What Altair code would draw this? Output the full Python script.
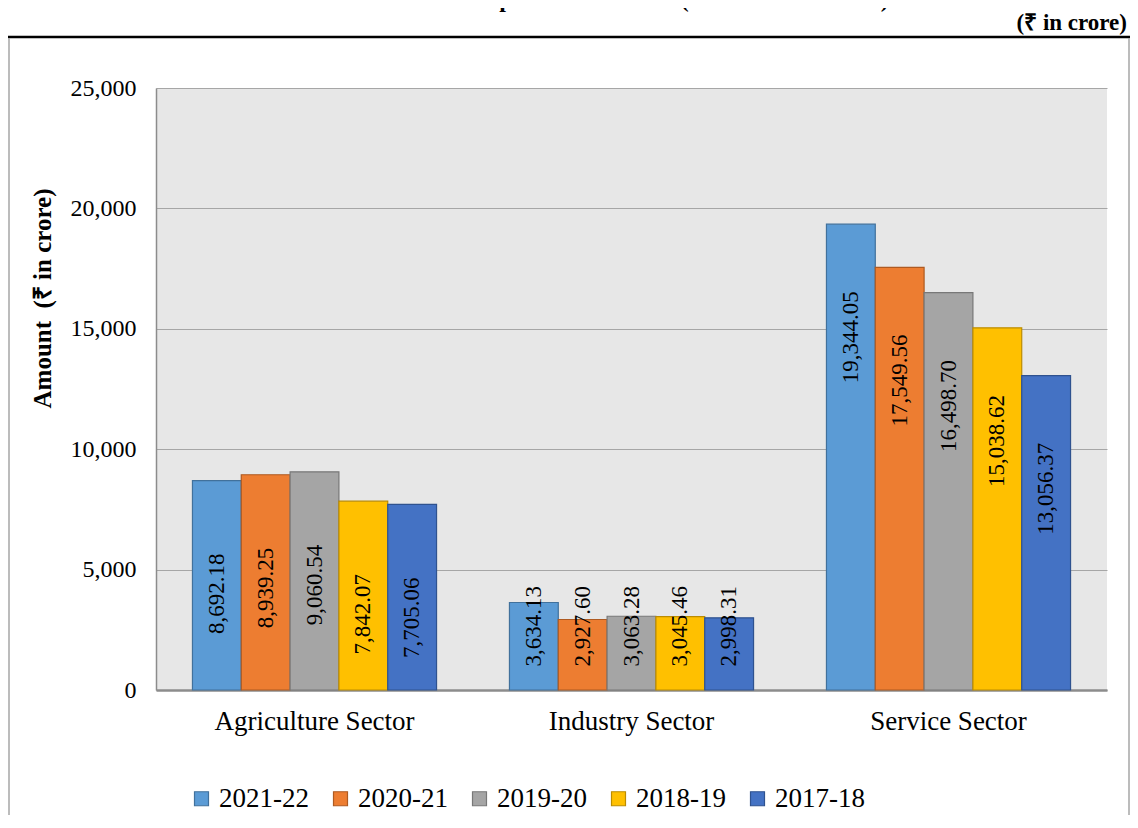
import altair as alt
import pandas as pd

sectors = ["Agriculture Sector", "Industry Sector", "Service Sector"]
years = ["2021-22", "2020-21", "2019-20", "2018-19", "2017-18"]
v_2021_22 = [8692.18, 3634.13, 19344.05]
v_2020_21 = [8939.25, 2927.60, 17549.56]
v_2019_20 = [9060.54, 3063.28, 16498.70]
v_2018_19 = [7842.07, 3045.46, 15038.62]
v_2017_18 = [7705.06, 2998.31, 13056.37]
y_ticks = [0, 5000, 10000, 15000, 20000, 25000]

fills = ["#5B9BD5", "#ED7D31", "#A5A5A5", "#FFC000", "#4472C4"]
strokes = ["#41719C", "#AE5A21", "#787878", "#BC8C00", "#2F528F"]

series = [v_2021_22, v_2020_21, v_2019_20, v_2018_19, v_2017_18]
rows = []
for yr, vals in zip(years, series):
    for s, v in zip(sectors, vals):
        rows.append({"sector": s, "year": yr, "value": v})
df = pd.DataFrame(rows)

FONT = "Liberation Serif"
W, H = 951, 602

legend_kw = dict(title=None, orient="none", direction="horizontal",
                 legendX=32, legendY=697, symbolType="square",
                 symbolSize=196, symbolStrokeWidth=1.2,
                 labelFont=FONT, labelFontSize=27, labelColor="black",
                 labelOffset=4, columnPadding=18, padding=0)

base = alt.Chart(df).encode(
    x=alt.X("sector:N", sort=sectors,
            scale=alt.Scale(paddingInner=0.23, paddingOuter=0.115),
            axis=alt.Axis(title=None, labelAngle=0, ticks=False, labelPadding=18,
                          labelFontSize=27, labelLimit=0, domainColor="#8c8c8c", domainWidth=2.5,
                          labelFont=FONT, labelColor="black", grid=False)),
    xOffset=alt.XOffset("year:N", sort=years, scale=alt.Scale(paddingInner=0, paddingOuter=0)),
)

bars = base.mark_bar(strokeWidth=1.2).encode(
    y=alt.Y("value:Q", scale=alt.Scale(domain=[0, 25000], nice=False),
            axis=alt.Axis(title="Amount\u00a0 (₹ in crore)", values=y_ticks, format=",d",
                          ticks=False, labelPadding=20, labelFontSize=24, labelFont=FONT,
                          labelColor="black", grid=True, gridColor="#a6a6a6",
                          domainColor="#8c8c8c", domainWidth=1.5,
                          titleFont=FONT, titleFontSize=25, titleFontWeight="bold",
                          titleColor="black", titleX=-114, titleY=210,
                          titleAngle=270, titleBaseline="middle", titleAlign="center")),
    color=alt.Color("year:N", sort=years,
                    scale=alt.Scale(domain=years, range=fills),
                    legend=alt.Legend(**legend_kw)),
    stroke=alt.Stroke("year:N", sort=years,
                      scale=alt.Scale(domain=years, range=strokes),
                      legend=alt.Legend(**legend_kw)),
)

labels = base.transform_calculate(
    lpos="max(datum.value - 4700, 2650)"
).mark_text(angle=270, font=FONT, fontSize=23, color="black",
            align="center", baseline="middle").encode(
    y=alt.Y("lpos:Q"),
    text=alt.Text("value:Q", format=",.2f"),
)

deco_df = pd.DataFrame({"k": [0]})
deco = alt.Chart(deco_df)
top_line = deco.mark_rule(color="black", strokeWidth=2.5).encode(
    x=alt.value(-148), x2=alt.value(974), y=alt.value(-51))
left_line = deco.mark_rule(color="#a6a6a6", strokeWidth=1.5).encode(
    x=alt.value(-147), y=alt.value(-50), y2=alt.value(727))
right_line = deco.mark_rule(color="#a6a6a6", strokeWidth=1.5).encode(
    x=alt.value(973), y=alt.value(-50), y2=alt.value(727))
unit_text = deco.mark_text(font=FONT, fontSize=23, fontWeight="bold", color="black",
                           align="right", baseline="alphabetic").encode(
    x=alt.value(971), y=alt.value(-58), text=alt.value("(₹ in crore)"))
title_text = deco.mark_text(font=FONT, fontSize=24, fontWeight="bold", color="black",
                            align="center", baseline="alphabetic").encode(
    x=alt.value(416), y=alt.value(-81),
    text=alt.value("Chart 1.4: Sectoral composition of GSVA (2017-18 to 2021-22)"))

chart = alt.layer(bars, labels, top_line, left_line, right_line, unit_text, title_text).properties(
    width=W, height=H,
    autosize=alt.AutoSizeParams(type="none"),
    padding={"left": 148, "top": 80, "right": 23, "bottom": 125},
    background="white",
).configure_view(fill="#e7e7e7", stroke=None)

chart.save("out.html", embed_options={"renderer": "svg", "actions": False})
